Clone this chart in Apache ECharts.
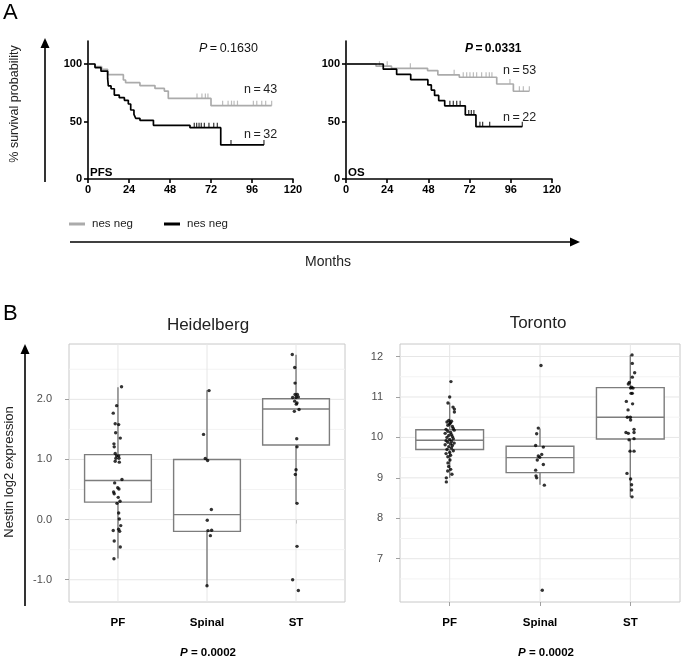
<!DOCTYPE html>
<html><head><meta charset="utf-8">
<script src="https://cdn.jsdelivr.net/npm/echarts@6/dist/echarts.min.js"></script>
<style>html,body{margin:0;padding:0;background:#fff}#c{width:683px;height:660px}</style>
</head><body><div id="c"></div>
<script>
// ---------- Panel A data (Kaplan-Meier, [month, % survival]) ----------
const kmTicks = [0, 24, 48, 72, 96, 120];
const kmYTicks = [0, 50, 100];
const pfsGreySteps = [[0,100],[4,97.7],[8,95.3],[11.5,90.7],[20.7,86.1],[22,83.8],[30.4,81.2],[39.2,78.8],[44.7,76.5],[47,70.1],[72,63.8],[107.5,63.8]];
const pfsBlackSteps = [[0,100],[4.1,96.9],[7.6,93.8],[11.5,87.5],[11.9,80.9],[13.5,78.5],[15.4,73.0],[18.3,70.7],[21.3,68.4],[23.6,65.2],[25,60.0],[26.9,56.2],[27.9,52.8],[30.4,51.0],[38.3,46.7],[59.7,44.6],[77.7,29.6],[103,29.6]];
const pfsGreyCensor = [[63.8,70.1],[66.7,70.1],[68.7,70.1],[70.2,70.1],[78.8,63.8],[82,63.8],[84,63.8],[85.5,63.8],[87.5,63.8],[96.8,63.8],[98.8,63.8],[101.7,63.8],[104,63.8],[107.5,63.8]];
const pfsBlackCensor = [[62.2,44.6],[63.6,44.6],[65,44.6],[66.3,44.6],[68.1,44.6],[70.8,44.6],[73.6,44.6],[75.7,44.6],[83.7,29.6],[103,29.6]];
const osGreySteps = [[0,100],[17.5,98.1],[26.5,96.2],[47.5,94.3],[53.5,90.6],[66,88.5],[87.8,82.6],[97.5,76.3],[106.8,76.3]];
const osBlackSteps = [[0,100],[21.7,95.5],[29.5,90.9],[37.7,86.4],[47.7,81.8],[49.7,77.3],[51.6,72.7],[54,68.2],[57.5,63.6],[69.5,55.7],[75.7,45.5],[102.7,45.5]];
const osGreyCensor = [[19.5,98.1],[24,98.1],[37.5,96.2],[63,90.6],[68.3,88.5],[70.3,88.5],[72.2,88.5],[74.2,88.5],[76.1,88.5],[79,88.5],[81.6,88.5],[83.5,88.5],[85,88.5],[95.5,82.6],[101,76.3],[103.3,76.3],[106.8,76.3]];
const osBlackCensor = [[60.5,63.6],[62.5,63.6],[64.5,63.6],[66.5,63.6],[71.5,55.7],[73,55.7],[74.5,55.7],[78,45.5],[79.6,45.5],[83.7,45.5],[102.7,45.5]];

// ---------- Panel B data ----------
const categories = ['PF', 'Spinal', 'ST'];
// Heidelberg box stats
const heidLow = [-0.645, -1.1, 0.27];
const heidQ1 = [0.29, -0.195, 1.24];
const heidMed = [0.65, 0.083, 1.84];
const heidQ3 = [1.08, 1.0, 2.01];
const heidHigh = [2.2, 2.15, 2.74];
const heidYMajor = [-1, 0, 1, 2];
const heidYMinor = [-0.5, 0.5, 1.5, 2.5];
// Heidelberg points [jitter, value]
const heidPF = [[0.04,2.21],[-0.015,1.895],[-0.053,1.77],[-0.031,1.595],[0.008,1.58],[-0.026,1.445],[0.026,1.355],[-0.045,1.26],[-0.042,1.21],[-0.031,1.1],[-0.015,1.06],[0.008,1.06],[-0.023,1.02],[0.011,1.02],[-0.031,0.97],[0.015,0.955],[0.045,0.667],[-0.037,0.61],[-0.003,0.53],[0.011,0.51],[-0.049,0.46],[-0.042,0.43],[0.003,0.37],[0.023,0.305],[-0.011,0.27],[0.008,0.11],[0.015,0.01],[0.031,-0.1],[-0.053,-0.18],[0.008,-0.16],[0.019,-0.195],[-0.042,-0.355],[0.026,-0.455],[-0.045,-0.65]];
const heidSpinal = [[0.023,2.145],[-0.039,1.417],[-0.019,1.017],[0.007,0.983],[0.049,0.167],[0.003,-0.01],[0.011,-0.183],[0.052,-0.178],[0.038,-0.267],[0,-1.1]];
const heidST = [[-0.042,2.745],[-0.015,2.53],[-0.011,2.27],[-0.011,2.08],[0.015,2.08],[-0.038,2.03],[0,2.03],[0.026,2.04],[-0.015,1.97],[0.011,1.94],[0.003,1.92],[-0.019,1.8],[0.034,1.83],[0.008,1.345],[0.011,1.21],[0,0.83],[-0.008,0.75],[0.011,0.27],[0.011,-0.445],[-0.038,-1.0],[0.026,-1.18]];
// Toronto box stats
const torLow = [9.0, 8.83, 8.53];
const torQ1 = [9.70, 9.13, 9.96];
const torMed = [9.93, 9.50, 10.50];
const torQ3 = [10.19, 9.78, 11.23];
const torHigh = [10.86, 10.22, 12.04];
const torYMajor = [7, 8, 9, 10, 11, 12];
const torYMinor = [6.5, 7.5, 8.5, 9.5, 10.5, 11.5];
const torPF = [[0.014,11.38],[0,11.0],[-0.019,10.85],[0.037,10.75],[0.052,10.70],[0.052,10.63],[-0.01,10.42],[0.02,10.40],[-0.03,10.38],[0.01,10.36],[0,10.33],[-0.02,10.30],[0.03,10.27],[0.04,10.22],[-0.04,10.20],[0.05,10.18],[-0.02,10.15],[0.01,10.12],[-0.05,10.10],[0.02,10.07],[-0.01,10.05],[0.03,10.02],[-0.03,10.00],[0.04,9.97],[0,9.95],[-0.04,9.92],[0.02,9.90],[-0.02,9.88],[0.05,9.86],[0.01,9.84],[-0.05,9.82],[0.03,9.80],[-0.01,9.77],[0.02,9.74],[-0.03,9.70],[0.04,9.67],[0,9.63],[-0.04,9.60],[0.01,9.56],[-0.02,9.52],[0.003,9.44],[-0.019,9.37],[-0.011,9.28],[0.011,9.21],[-0.022,9.17],[0.025,9.09],[-0.037,9.0],[-0.037,8.90]];
const torSpinal = [[0.011,11.78],[-0.019,10.23],[-0.037,10.09],[-0.048,9.80],[0.037,9.76],[0.019,9.58],[-0.019,9.54],[-0.003,9.51],[-0.03,9.44],[0.037,9.33],[-0.048,9.19],[-0.044,9.05],[-0.037,9.0],[0.048,8.82],[0.025,6.22]];
const torST = [[0.019,12.04],[0.022,11.83],[0.048,11.6],[0.022,11.49],[-0.011,11.36],[-0.022,11.32],[0.014,11.24],[0.003,11.22],[0.03,11.22],[0.008,11.09],[0.022,11.09],[-0.044,10.89],[0.025,10.83],[-0.025,10.68],[-0.033,10.50],[0,10.50],[0.003,10.43],[0.041,10.2],[-0.048,10.12],[0.041,10.12],[-0.022,10.10],[0.041,9.97],[-0.014,9.94],[-0.003,9.66],[0.041,9.66],[-0.037,9.11],[0.003,8.97],[0.014,8.83],[0.014,8.70],[0.019,8.53]];

// ---------- styling ----------
const FONT = 'Liberation Sans, Arial, Helvetica, sans-serif';
const GREY = '#ababab';
const BOXC = '#7d7d7d';
const TS = '\u2009';

function kmXAxis(idx) {
  return {type:'value', gridIndex: idx, min: 0, max: 120, interval: 24,
    axisLine:{show:true, lineStyle:{color:'#000', width:1.6}},
    axisTick:{show:true, length:4, lineStyle:{color:'#000', width:1.6}},
    axisLabel:{color:'#000', fontFamily: FONT, fontWeight:'bold', fontSize:11, margin:5},
    splitLine:{show:false}};
}
function kmYAxis(idx) {
  return {type:'value', gridIndex: idx, min: 0, max: 120,
    axisLine:{show:true, lineStyle:{color:'#000', width:1.6}},
    axisTick:{show:true, length:4, customValues: kmYTicks, lineStyle:{color:'#000', width:1.6}},
    axisLabel:{customValues: kmYTicks, color:'#000', fontFamily: FONT, fontWeight:'bold', fontSize:11, margin:6},
    splitLine:{show:false}};
}
function kmLine(idx, data, color, z) {
  return {type:'line', xAxisIndex: idx, yAxisIndex: idx, data: data, step:'end', showSymbol:false,
    symbol:'none', lineStyle:{color: color, width:1.7}, z: z, silent:true, animation:false};
}
function kmCensor(idx, data, color, z) {
  return {type:'scatter', xAxisIndex: idx, yAxisIndex: idx, data: data, symbol:'rect',
    symbolSize:[1.2, 5], symbolOffset:[0, -2.5], itemStyle:{color: color}, z: z, silent:true, animation:false};
}
function bXAxis(idx) {
  return {type:'value', gridIndex: idx, min: 0.45, max: 3.55,
    axisLine:{show:false},
    axisTick:{show:true, customValues:[1,2,3], length:4, lineStyle:{color:'#a0a0a0'}},
    axisLabel:{customValues:[1,2,3], formatter: v => categories[Math.round(v)-1],
      color:'#000', fontFamily: FONT, fontWeight:'bold', fontSize:11.5, margin:15},
    splitLine:{show:false}};
}
function bYAxis(idx, min, max, majors, dec) {
  return {type:'value', gridIndex: idx, min: min, max: max,
    axisLine:{show:false},
    axisTick:{show:true, customValues: majors, length:4, lineStyle:{color:'#a0a0a0'}},
    axisLabel:{customValues: majors, formatter: v => v.toFixed(dec),
      color:'#4d4d4d', fontFamily: FONT, fontSize:11, margin:17},
    splitLine:{show:false}};
}
function gridLines(idx, majors, minors) {
  const data = majors.map(v => [v, 1]).concat(minors.map(v => [v, 0]));
  return {type:'custom', xAxisIndex: idx, yAxisIndex: idx, z: 1, silent: true, animation:false,
    encode:{y:0}, data: data,
    renderItem: function (params, api) {
      const cs = params.coordSys;
      const y = api.coord([1, api.value(0)])[1];
      const major = api.value(1) === 1;
      return {type:'line', shape:{x1: cs.x, y1: y, x2: cs.x + cs.width, y2: y},
        style:{stroke: major ? '#e6e6e6' : '#f3f3f3', lineWidth: 1}};
    }};
}
function vGridLines(idx, yRef) {
  return {type:'custom', xAxisIndex: idx, yAxisIndex: idx, z: 1, silent: true, animation:false,
    data: categories.map((c, i) => [i + 1, yRef]),
    renderItem: function (params, api) {
      const cs = params.coordSys;
      const x = api.coord([api.value(0), yRef])[0];
      return {type:'line', shape:{x1: x, y1: cs.y, x2: x, y2: cs.y + cs.height},
        style:{stroke:'#e6e6e6', lineWidth: 1}};
    }};
}
function boxes(idx, low, q1, med, q3, high) {
  return {type:'custom', xAxisIndex: idx, yAxisIndex: idx, z: 3, silent: true, animation:false,
    data: categories.map((c, i) => [i + 1, low[i], q1[i], med[i], q3[i], high[i]]),
    renderItem: function (params, api) {
      const x = api.value(0);
      const half = api.size([0.75, 0])[0] / 2;
      const pl = api.coord([x, api.value(1)]);
      const p1 = api.coord([x, api.value(2)]);
      const pm = api.coord([x, api.value(3)]);
      const p3 = api.coord([x, api.value(4)]);
      const ph = api.coord([x, api.value(5)]);
      const st = {stroke: BOXC, lineWidth: 1.4, fill: null};
      return {type:'group', children:[
        {type:'line', shape:{x1: pl[0], y1: pl[1], x2: pl[0], y2: p1[1]}, style: st},
        {type:'line', shape:{x1: ph[0], y1: ph[1], x2: ph[0], y2: p3[1]}, style: st},
        {type:'rect', shape:{x: pm[0] - half, y: p3[1], width: 2 * half, height: p1[1] - p3[1]},
          style:{stroke: BOXC, lineWidth: 1.4, fill:'#ffffff'}},
        {type:'line', shape:{x1: pm[0] - half, y1: pm[1], x2: pm[0] + half, y2: pm[1]}, style: st}
      ]};
    }};
}
function points(idx, catIndex, pts) {
  return {type:'scatter', xAxisIndex: idx, yAxisIndex: idx, z: 4, silent: true, animation:false,
    data: pts.map(p => [catIndex + 1 + p[0], p[1]]),
    symbol:'circle', symbolSize: 3.4, itemStyle:{color:'#000'}};
}

// ---------- graphics ----------
function text(x, y, str, size, opts) {
  opts = opts || {};
  return {type:'text', x: x, y: y, rotation: opts.rot || 0, silent: true,
    style: Object.assign({text: str, font: (opts.weight || 'normal') + ' ' + size + 'px ' + FONT,
      fill: opts.color || '#000', textAlign: opts.align || 'left', textVerticalAlign:'middle',
      align: opts.align || 'left', verticalAlign:'middle'}, opts.rich ? {rich: opts.rich} : {})};
}
function vArrow(x, yBottom, yTip) {
  return [{type:'line', silent:true, shape:{x1:x, y1:yBottom, x2:x, y2:yTip + 8}, style:{stroke:'#000', lineWidth:1.6}},
    {type:'polygon', silent:true, shape:{points:[[x - 4.5, yTip + 10], [x + 4.5, yTip + 10], [x, yTip]]}, style:{fill:'#000'}}];
}
function hArrow(y, xStart, xTip) {
  return [{type:'line', silent:true, shape:{x1:xStart, y1:y, x2:xTip - 8, y2:y}, style:{stroke:'#000', lineWidth:1.6}},
    {type:'polygon', silent:true, shape:{points:[[xTip - 10, y - 4.5], [xTip - 10, y + 4.5], [xTip, y]]}, style:{fill:'#000'}}];
}

const graphics = [
  text(3, 13, 'A', 22),
  text(3, 314, 'B', 22),
  text(15, 104, '% survival probability', 12.5, {align:'center', rot: Math.PI / 2, color:'#222'}),
  text(199, 49, '{i|P}' + TS + '=' + TS + '0.1630', 12.5, {color:'#111', rich:{i:{fontStyle:'italic', fontSize:12.5, fontFamily:FONT}}}),
  text(465, 49, '{i|P}' + TS + '=' + TS + '0.0331', 12, {weight:'bold', rich:{i:{fontStyle:'italic', fontWeight:'bold', fontSize:12, fontFamily:FONT}}}),
  text(244, 90, 'n' + TS + '=' + TS + '43', 12.5, {color:'#222'}),
  text(244, 135, 'n' + TS + '=' + TS + '32', 12.5, {color:'#222'}),
  text(503, 71, 'n' + TS + '=' + TS + '53', 12.5, {color:'#222'}),
  text(503, 118, 'n' + TS + '=' + TS + '22', 12.5, {color:'#222'}),
  text(90, 173, 'PFS', 11.5, {weight:'bold'}),
  text(348, 173, 'OS', 11.5, {weight:'bold'}),
  {type:'line', silent:true, shape:{x1:69, y1:224, x2:85, y2:224}, style:{stroke:GREY, lineWidth:3}},
  text(92, 224, 'nes neg', 11.5, {color:'#222'}),
  {type:'line', silent:true, shape:{x1:164, y1:224, x2:180, y2:224}, style:{stroke:'#000', lineWidth:3}},
  text(187, 224, 'nes neg', 11.5, {color:'#222'}),
  text(328, 262, 'Months', 14, {align:'center', color:'#222'}),
  text(208, 325, 'Heidelberg', 17, {align:'center', color:'#222'}),
  text(538, 323, 'Toronto', 17, {align:'center', color:'#222'}),
  text(9, 472, 'Nestin log2 expression', 13, {align:'center', rot: Math.PI / 2, color:'#222'}),
  text(208, 653, '{i|P} = 0.0002', 11.5, {align:'center', weight:'bold', rich:{i:{fontStyle:'italic', fontWeight:'bold', fontSize:11.5, fontFamily:FONT}}}),
  text(546, 653, '{i|P} = 0.0002', 11.5, {align:'center', weight:'bold', rich:{i:{fontStyle:'italic', fontWeight:'bold', fontSize:11.5, fontFamily:FONT}}})
].concat(vArrow(45, 182, 38), vArrow(25, 606, 344), hArrow(242, 70, 580));

const chart = echarts.init(document.getElementById('c'), null, {renderer:'canvas'});
chart.setOption({
  animation: false,
  backgroundColor: '#fff',
  textStyle: {fontFamily: FONT},
  grid: [
    {left: 88, top: 41, width: 205, height: 138},
    {left: 346, top: 41, width: 206, height: 138},
    {left: 69, top: 344, width: 276, height: 258, show: true, borderColor: '#c8c8c8', borderWidth: 1, backgroundColor:'#fff'},
    {left: 400, top: 344, width: 280, height: 258, show: true, borderColor: '#c8c8c8', borderWidth: 1, backgroundColor:'#fff'}
  ],
  xAxis: [kmXAxis(0), kmXAxis(1), bXAxis(2), bXAxis(3)],
  yAxis: [kmYAxis(0), kmYAxis(1), bYAxis(2, -1.37, 2.92, heidYMajor, 1), bYAxis(3, 5.93, 12.31, torYMajor, 0)],
  series: [
    kmLine(0, pfsGreySteps, GREY, 2), kmLine(0, pfsBlackSteps, '#000', 3),
    kmCensor(0, pfsGreyCensor, GREY, 2), kmCensor(0, pfsBlackCensor, '#000', 3),
    kmLine(1, osGreySteps, GREY, 2), kmLine(1, osBlackSteps, '#000', 3),
    kmCensor(1, osGreyCensor, GREY, 2), kmCensor(1, osBlackCensor, '#000', 3),
    gridLines(2, heidYMajor, heidYMinor), vGridLines(2, 0),
    gridLines(3, torYMajor, torYMinor), vGridLines(3, 9),
    boxes(2, heidLow, heidQ1, heidMed, heidQ3, heidHigh),
    boxes(3, torLow, torQ1, torMed, torQ3, torHigh),
    points(2, 0, heidPF), points(2, 1, heidSpinal), points(2, 2, heidST),
    points(3, 0, torPF), points(3, 1, torSpinal), points(3, 2, torST)
  ],
  graphic: graphics
});
</script></body></html>
